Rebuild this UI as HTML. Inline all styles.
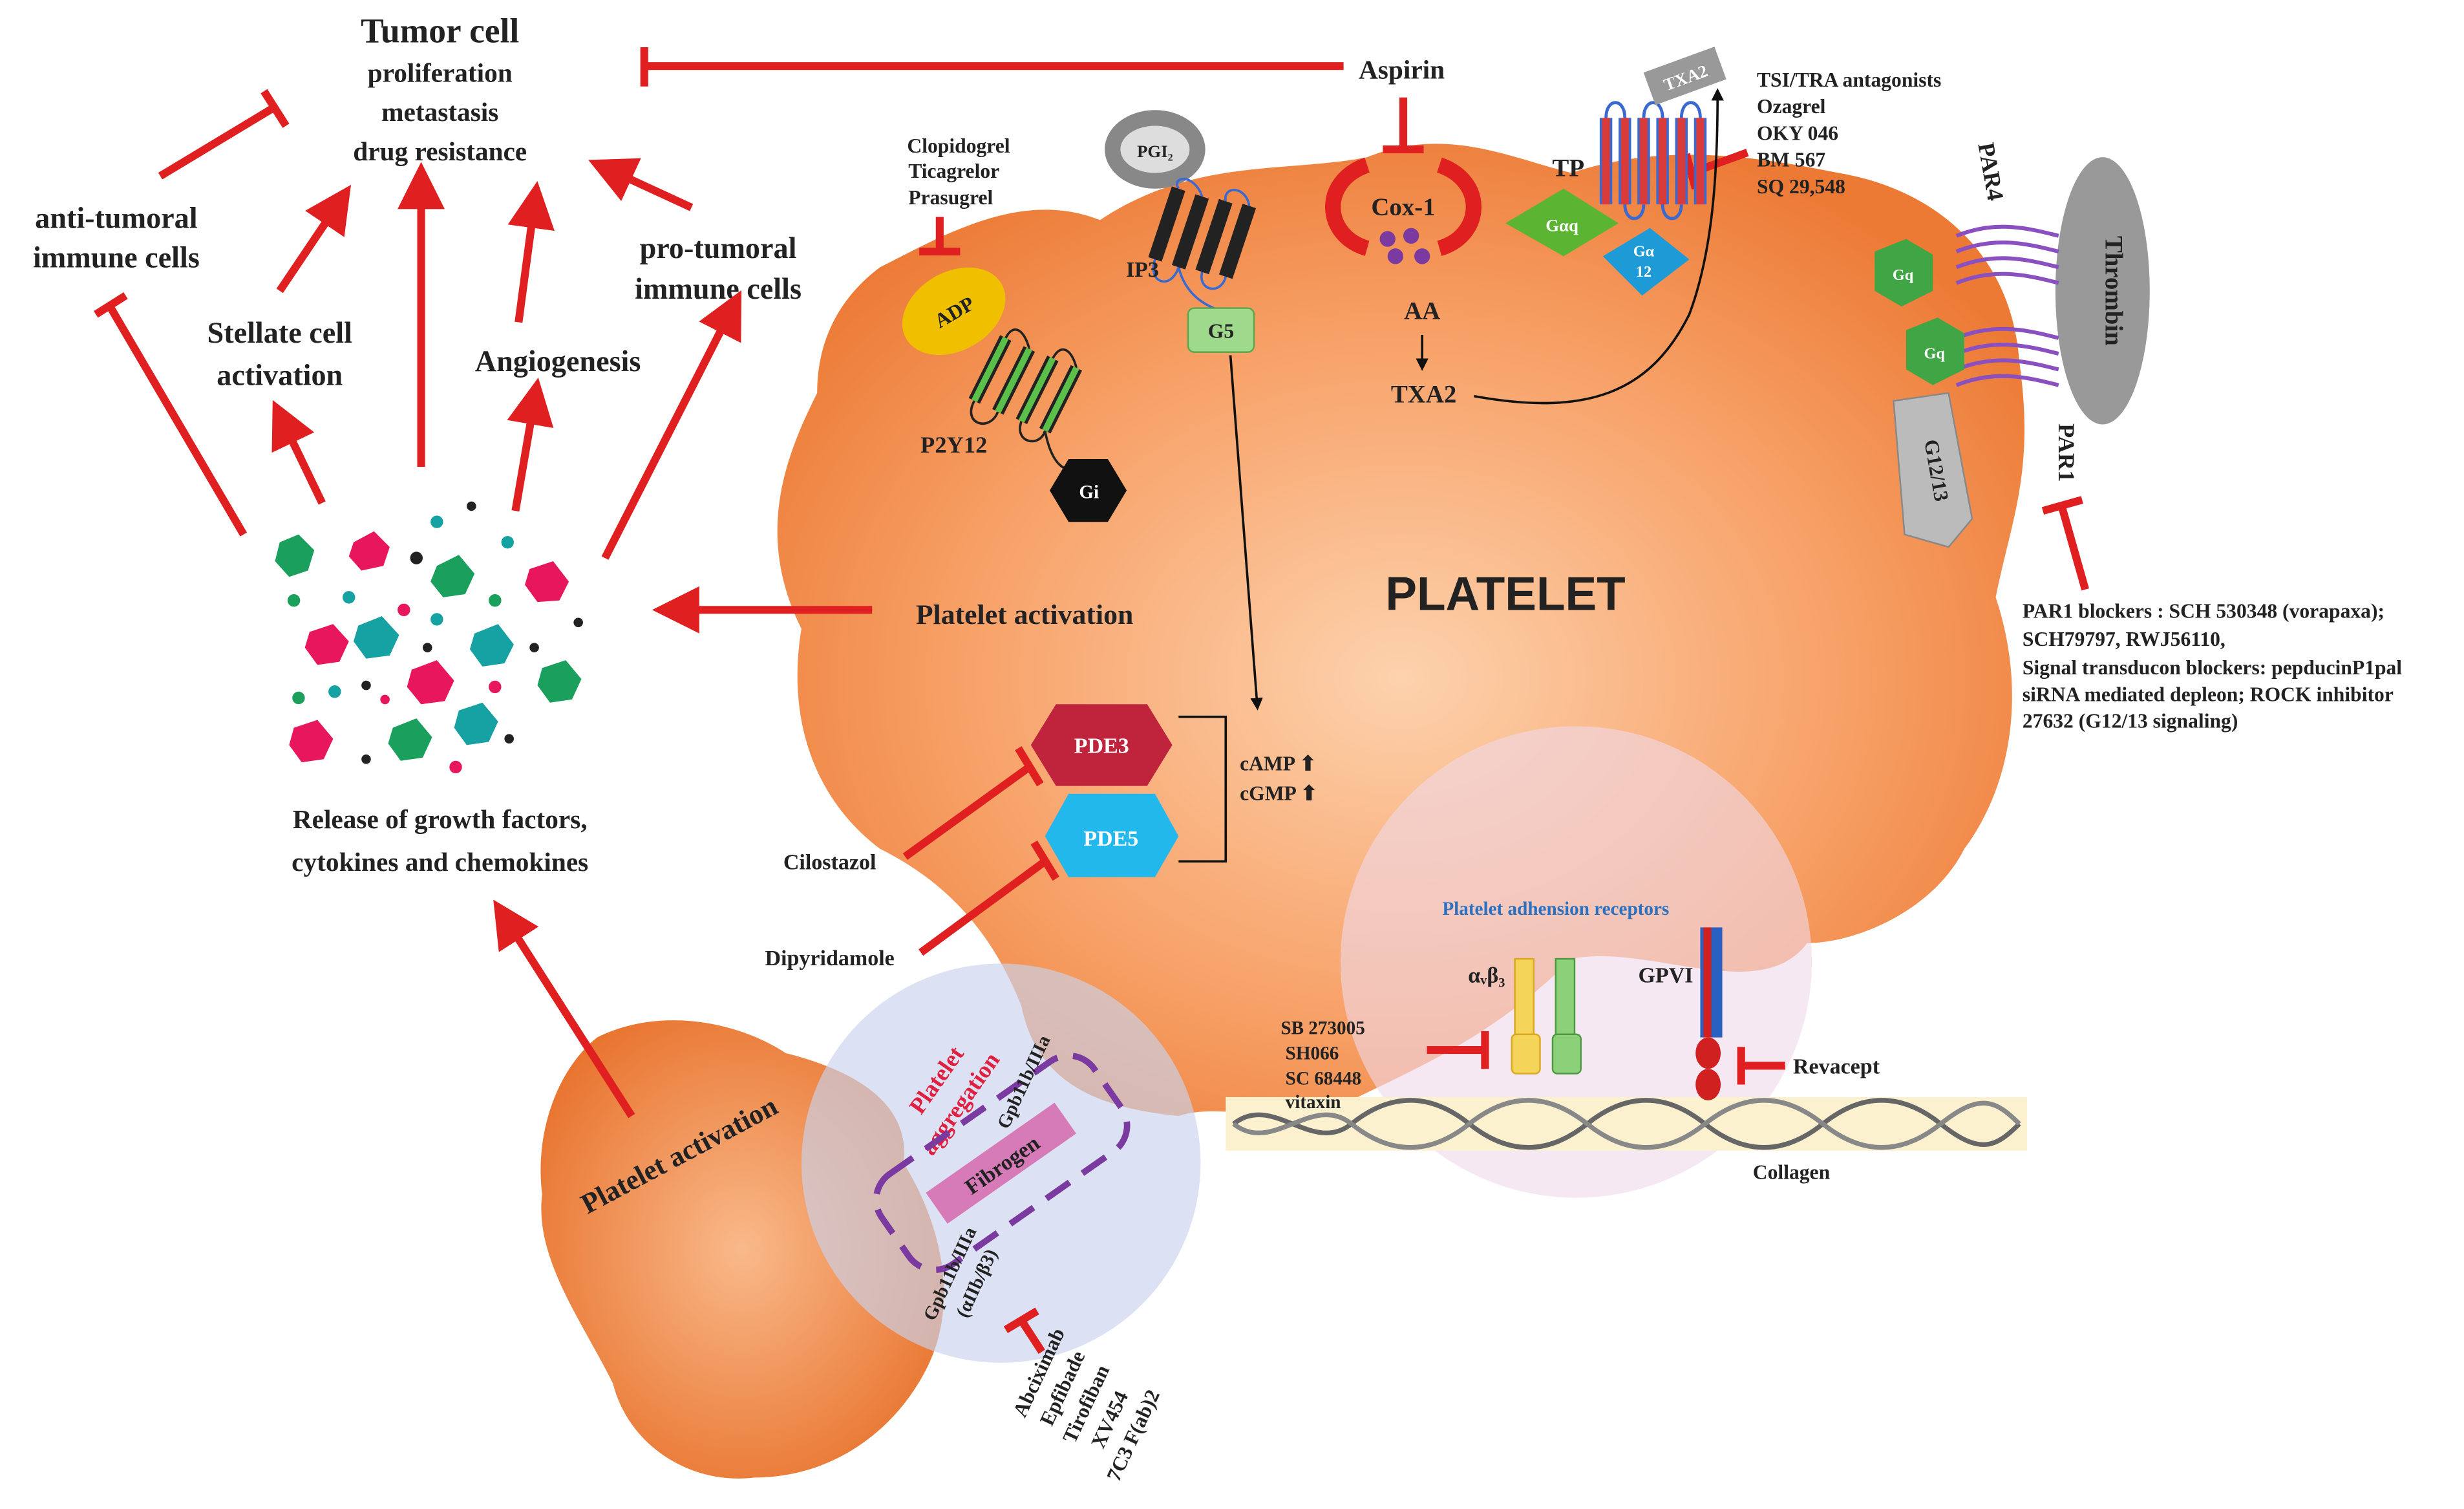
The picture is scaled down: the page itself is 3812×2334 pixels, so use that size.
<!DOCTYPE html>
<html><head><meta charset="utf-8"><style>
html,body{margin:0;padding:0;background:#fff;}
svg{display:block;}
text{font-family:"Liberation Serif",serif;font-weight:bold;fill:#222;}
</style></head><body>
<svg width="3812" height="2334" viewBox="0 0 1568 960" xmlns="http://www.w3.org/2000/svg">
<defs>
<radialGradient id="og" cx="0.5" cy="0.55" r="0.6">
<stop offset="0" stop-color="#fdd2ad"/><stop offset="0.6" stop-color="#f7a066"/><stop offset="1" stop-color="#ec7a35"/>
</radialGradient>
<radialGradient id="og2" cx="0.5" cy="0.5" r="0.6">
<stop offset="0" stop-color="#f9b98a"/><stop offset="1" stop-color="#e8722c"/>
</radialGradient>
<marker id="ar" markerWidth="6" markerHeight="6" refX="3" refY="3" orient="auto" markerUnits="strokeWidth"><path d="M0,0 L6,3 L0,6 z" fill="#e02020"/></marker>
<marker id="ak" markerWidth="8" markerHeight="8" refX="4" refY="4" orient="auto" markerUnits="userSpaceOnUse"><path d="M0,0 L8,4 L0,8 z" fill="#111"/></marker>
</defs>

<path d="M560,170 C600,150 650,120 700,140 C760,100 820,110 870,100 C920,80 960,100 1000,110 C1060,90 1120,100 1170,110 C1230,120 1280,160 1285,230 C1295,300 1280,330 1270,380 C1290,440 1280,500 1250,540 C1230,580 1180,600 1150,600 C1120,640 1050,600 1000,610 C950,660 900,680 860,700 C820,720 780,700 750,710 C700,705 660,690 650,640 C630,590 600,560 560,540 C520,510 500,460 510,400 C480,340 500,290 520,250 C520,210 540,185 560,170 Z" fill="url(#og)"/>
<path d="M380,660 C420,640 470,650 500,670 C540,680 580,700 575,740 C600,780 610,830 590,870 C570,910 530,940 480,940 C440,945 400,920 390,880 C370,840 340,800 345,760 C340,720 355,680 380,660 Z" fill="url(#og2)"/>
<circle cx="637" cy="740" r="127" fill="#c9d3ec" fill-opacity="0.65"/>
<circle cx="1003" cy="612" r="150" fill="#f0d8ea" fill-opacity="0.6"/>
<rect x="780" y="698" width="510" height="34" fill="#fbf1cf"/>
<path d="M785,715 C810,695 835,735 860,715 S910,695 935,715 S985,735 1010,715 S1060,695 1085,715 S1135,735 1160,715 S1210,695 1235,715 S1270,730 1285,715" stroke="#666" stroke-width="3" fill="none"/>
<path d="M785,715 C810,735 835,695 860,715 S910,735 935,715 S985,695 1010,715 S1060,735 1085,715 S1135,695 1160,715 S1210,735 1235,715 S1270,700 1285,715" stroke="#888" stroke-width="3" fill="none"/>

<text x="280" y="27" font-size="22" text-anchor="middle">Tumor cell</text>
<text x="280" y="52" font-size="17" text-anchor="middle">proliferation</text>
<text x="280" y="77" font-size="17" text-anchor="middle">metastasis</text>
<text x="280" y="102" font-size="17" text-anchor="middle">drug resistance</text>
<text x="74" y="145" font-size="19" text-anchor="middle">anti-tumoral</text>
<text x="74" y="170" font-size="19" text-anchor="middle">immune cells</text>
<text x="178" y="218" font-size="19" text-anchor="middle">Stellate cell</text>
<text x="178" y="245" font-size="19" text-anchor="middle">activation</text>
<text x="355" y="236" font-size="19" text-anchor="middle">Angiogenesis</text>
<text x="457" y="164" font-size="19" text-anchor="middle">pro-tumoral</text>
<text x="457" y="190" font-size="19" text-anchor="middle">immune cells</text>
<text x="280" y="527" font-size="17" text-anchor="middle">Release of growth factors,</text>
<text x="280" y="554" font-size="17" text-anchor="middle">cytokines and chemokines</text>

<g stroke="#e02020" stroke-width="5" fill="none" marker-end="url(#ar)">
<line x1="155" y1="340" x2="70" y2="195" marker-end="none"/>
<line x1="205" y1="320" x2="180" y2="268"/>
<line x1="268" y1="297" x2="268" y2="118"/>
<line x1="328" y1="325" x2="340" y2="255"/>
<line x1="385" y1="355" x2="465" y2="198"/>
<line x1="178" y1="185" x2="215" y2="130"/>
<line x1="330" y1="205" x2="340" y2="130"/>
<line x1="440" y1="132" x2="388" y2="108"/>
<line x1="555" y1="388" x2="430" y2="388"/>
<line x1="402" y1="710" x2="322" y2="585"/>
<line x1="855" y1="42" x2="410" y2="42" marker-end="none"/>
<line x1="102" y1="112" x2="175" y2="68" marker-end="none"/>
</g>
<g stroke="#e02020" stroke-width="5">
<line x1="410" y1="30" x2="410" y2="55"/>
<line x1="168" y1="58" x2="182" y2="80"/>
<line x1="61" y1="200" x2="80" y2="188"/>
<line x1="893" y1="62" x2="893" y2="95"/><line x1="880" y1="95" x2="906" y2="95"/>
<line x1="598" y1="138" x2="598" y2="160"/><line x1="585" y1="160" x2="611" y2="160"/>
<line x1="1112" y1="97" x2="1076" y2="110"/><line x1="1073" y1="98" x2="1079" y2="120"/>
<line x1="1327" y1="375" x2="1312" y2="322"/><line x1="1300" y1="325" x2="1325" y2="318"/>
<line x1="576" y1="545" x2="655" y2="488"/><line x1="648" y1="476" x2="662" y2="499"/>
<line x1="586" y1="606" x2="665" y2="548"/><line x1="658" y1="536" x2="672" y2="559"/>
<line x1="908" y1="668" x2="945" y2="668"/><line x1="945" y1="656" x2="945" y2="680"/>
<line x1="1136" y1="678" x2="1108" y2="678"/><line x1="1108" y1="666" x2="1108" y2="690"/>
<line x1="663" y1="860" x2="650" y2="840"/><line x1="640" y1="846" x2="660" y2="834"/>
</g>

<g>
<polygon points="178,345 190,340 200,350 196,363 184,367 175,357" fill="#1aa05c"/>
<polygon points="225,345 238,338 248,348 244,360 230,363 222,354" fill="#e8175d"/>
<polygon points="278,360 292,353 302,365 296,378 282,380 274,370" fill="#1aa05c"/>
<polygon points="337,362 352,357 362,370 356,382 342,383 334,372" fill="#e8175d"/>
<polygon points="197,402 212,397 222,408 216,421 202,423 194,412" fill="#e8175d"/>
<polygon points="228,398 243,392 254,404 248,417 233,419 225,408" fill="#16a2a2"/>
<polygon points="302,403 317,397 327,410 321,422 307,424 299,413" fill="#16a2a2"/>
<polygon points="345,425 360,420 370,432 364,445 350,447 342,436" fill="#1aa05c"/>
<polygon points="262,426 278,420 289,433 283,446 268,448 259,437" fill="#e8175d"/>
<polygon points="187,463 202,458 212,470 206,483 192,485 184,474" fill="#e8175d"/>
<polygon points="250,463 265,457 275,469 269,482 255,484 247,473" fill="#1aa05c"/>
<polygon points="292,452 307,447 317,459 311,472 297,474 289,463" fill="#16a2a2"/>
<circle cx="265" cy="355" r="4" fill="#222"/><circle cx="300" cy="322" r="3" fill="#222"/>
<circle cx="278" cy="332" r="4" fill="#16a2a2"/><circle cx="323" cy="345" r="4" fill="#16a2a2"/>
<circle cx="187" cy="382" r="4" fill="#1aa05c"/><circle cx="222" cy="380" r="4" fill="#16a2a2"/>
<circle cx="257" cy="388" r="4" fill="#e8175d"/><circle cx="315" cy="382" r="4" fill="#1aa05c"/>
<circle cx="278" cy="394" r="4" fill="#16a2a2"/><circle cx="368" cy="396" r="3" fill="#222"/>
<circle cx="272" cy="412" r="3" fill="#222"/><circle cx="340" cy="412" r="3" fill="#222"/>
<circle cx="190" cy="444" r="4" fill="#1aa05c"/><circle cx="213" cy="440" r="4" fill="#16a2a2"/>
<circle cx="233" cy="436" r="3" fill="#222"/><circle cx="245" cy="445" r="3" fill="#e8175d"/>
<circle cx="315" cy="437" r="4" fill="#e8175d"/><circle cx="233" cy="483" r="3" fill="#222"/>
<circle cx="290" cy="488" r="4" fill="#e8175d"/><circle cx="324" cy="470" r="3" fill="#222"/>
</g>

<text x="892" y="50" font-size="17" text-anchor="middle">Aspirin</text>
<text x="610" y="97" font-size="13" text-anchor="middle">Clopidogrel</text>
<text x="607" y="113" font-size="13" text-anchor="middle">Ticagrelor</text>
<text x="605" y="130" font-size="13" text-anchor="middle">Prasugrel</text>
<text x="1118" y="55" font-size="13">TSI/TRA antagonists</text>
<text x="1118" y="72" font-size="13">Ozagrel</text>
<text x="1118" y="89" font-size="13">OKY 046</text>
<text x="1118" y="106" font-size="13">BM 567</text>
<text x="1118" y="123" font-size="13">SQ 29,548</text>

<path d="M870,105 C840,115 842,150 870,158" stroke="#e02020" stroke-width="10" fill="none"/>
<path d="M916,105 C946,115 944,150 916,158" stroke="#e02020" stroke-width="10" fill="none"/>
<text x="893" y="137" font-size="16" text-anchor="middle">Cox-1</text>
<circle cx="883" cy="152" r="5" fill="#7a3aa0"/><circle cx="898" cy="150" r="5" fill="#7a3aa0"/>
<circle cx="888" cy="163" r="5" fill="#7a3aa0"/><circle cx="905" cy="163" r="5" fill="#7a3aa0"/>
<text x="905" y="203" font-size="16" text-anchor="middle">AA</text>
<line x1="905" y1="213" x2="905" y2="232" stroke="#111" stroke-width="1.5" marker-end="url(#ak)"/>
<text x="906" y="256" font-size="16" text-anchor="middle">TXA2</text>
<path d="M938,252 C1010,265 1050,250 1075,200 C1090,160 1093,110 1093,60" stroke="#111" stroke-width="1.5" fill="none" marker-end="url(#ak)"/>

<!-- TP receptor -->
<text x="998" y="112" font-size="16" text-anchor="middle">TP</text>
<path d="M1022,75 C1022,62 1034,62 1034,75 M1046,75 C1046,62 1058,62 1058,75 M1070,75 C1070,62 1082,62 1082,75 M1034,130 C1034,142 1046,142 1046,130 M1058,130 C1058,142 1070,142 1070,130" stroke="#3a6ad0" stroke-width="2" fill="none"/>
<g stroke="#3a6ad0" stroke-width="8" fill="none">
<line x1="1022" y1="75" x2="1022" y2="130"/><line x1="1034" y1="75" x2="1034" y2="130"/>
<line x1="1046" y1="75" x2="1046" y2="130"/><line x1="1058" y1="75" x2="1058" y2="130"/>
<line x1="1070" y1="75" x2="1070" y2="130"/><line x1="1082" y1="75" x2="1082" y2="130"/>
</g>
<g stroke="#d93a3a" stroke-width="5" fill="none">
<line x1="1022" y1="75" x2="1022" y2="130"/><line x1="1034" y1="75" x2="1034" y2="130"/>
<line x1="1046" y1="75" x2="1046" y2="130"/><line x1="1058" y1="75" x2="1058" y2="130"/>
<line x1="1070" y1="75" x2="1070" y2="130"/><line x1="1082" y1="75" x2="1082" y2="130"/>
</g>
<g transform="rotate(-20 1070 48)"><rect x="1048" y="38" width="48" height="22" fill="#999"/><text x="1072" y="54" font-size="11" text-anchor="middle" style="fill:#fff">TXA2</text></g>
<polygon points="958,142 995,120 1030,142 995,163" fill="#5bb533"/>
<text x="994" y="147" font-size="11" text-anchor="middle" style="fill:#fff">Gαq</text>
<polygon points="1020,163 1050,145 1075,165 1045,188" fill="#1e9ad6"/>
<text x="1046" y="163" font-size="10" text-anchor="middle" style="fill:#fff">Gα</text>
<text x="1046" y="176" font-size="10" text-anchor="middle" style="fill:#fff">12</text>

<!-- PGI2, IP3, G5 -->
<ellipse cx="735" cy="95" rx="32" ry="25" fill="#888"/>
<ellipse cx="735" cy="95" rx="22" ry="15" fill="#ddd"/>
<text x="735" y="100" font-size="11" text-anchor="middle">PGI₂</text>
<path d="M750,120 C745,112 760,110 765,125 M780,128 C778,118 793,118 795,131 M735,165 C730,180 745,185 750,170 M765,173 C762,185 777,188 780,176 M750,170 C755,190 770,195 777,198" stroke="#3a6ad0" stroke-width="1.5" fill="none"/>
<g stroke="#222" stroke-width="9">
<line x1="735" y1="165" x2="750" y2="120"/><line x1="750" y1="170" x2="765" y2="125"/>
<line x1="765" y1="173" x2="780" y2="128"/><line x1="780" y1="176" x2="795" y2="131"/>
</g>
<text x="727" y="176" font-size="14" text-anchor="middle">IP3</text>
<rect x="756" y="196" width="42" height="28" rx="4" fill="#9fd98c" stroke="#5aa84a"/>
<text x="777" y="215" font-size="13" text-anchor="middle">G5</text>
<line x1="783" y1="226" x2="800" y2="448" stroke="#111" stroke-width="1.5" marker-end="url(#ak)"/>

<!-- ADP P2Y12 -->
<g transform="rotate(-30 607 198)"><ellipse cx="607" cy="198" rx="35" ry="25" fill="#f0c000"/></g>
<text x="607" y="203" font-size="13" text-anchor="middle" transform="rotate(-30 607 198)">ADP</text>
<path d="M620,255 C612,270 630,275 635,262 M650,268 C645,282 662,285 665,274 M640,215 C645,205 652,210 655,222 M670,228 C675,218 682,222 685,234 M665,274 C670,300 680,300 690,300" stroke="#222" stroke-width="1.5" fill="none"/>
<g stroke="#222" stroke-width="8"><line x1="620" y1="255" x2="640" y2="215"/><line x1="635" y1="262" x2="655" y2="222"/><line x1="650" y1="268" x2="670" y2="228"/><line x1="665" y1="274" x2="685" y2="234"/></g>
<g stroke="#5bc04a" stroke-width="4"><line x1="620" y1="255" x2="640" y2="215"/><line x1="635" y1="262" x2="655" y2="222"/><line x1="650" y1="268" x2="670" y2="228"/><line x1="665" y1="274" x2="685" y2="234"/></g>
<text x="607" y="288" font-size="15" text-anchor="middle">P2Y12</text>
<polygon points="680,292 705,292 717,312 705,332 680,332 668,312" fill="#111"/>
<text x="693" y="317" font-size="12" text-anchor="middle" style="fill:#fff">Gi</text>

<!-- PAR4/PAR1 -->
<ellipse cx="1338" cy="185" rx="30" ry="85" fill="#999"/>
<text x="1340" y="185" font-size="16" text-anchor="middle" transform="rotate(90 1340 185)">Thrombin</text>
<text x="1262" y="110" font-size="15" text-anchor="middle" transform="rotate(80 1262 110)">PAR4</text>
<text x="1310" y="288" font-size="15" text-anchor="middle" transform="rotate(90 1310 288)">PAR1</text>
<g stroke="#8a50c0" stroke-width="2.5" fill="none">
<path d="M1245,150 C1270,140 1290,145 1310,150 M1245,160 C1270,150 1290,155 1310,160 M1245,170 C1270,160 1290,165 1310,170 M1245,180 C1270,170 1290,175 1310,180"/>
<path d="M1245,215 C1270,205 1290,210 1310,215 M1245,225 C1270,215 1290,220 1310,225 M1245,235 C1270,225 1290,230 1310,235 M1245,245 C1270,235 1290,240 1310,245"/>
</g>
<polygon points="1193,160 1213,152 1230,162 1230,185 1210,195 1193,185" fill="#3fa545"/>
<text x="1211" y="178" font-size="10" text-anchor="middle" style="fill:#fff">Gq</text>
<polygon points="1213,210 1233,202 1250,212 1250,235 1230,245 1213,235" fill="#3fa545"/>
<text x="1231" y="228" font-size="10" text-anchor="middle" style="fill:#fff">Gq</text>
<polygon points="1205,255 1240,250 1255,330 1240,348 1212,340" fill="#bbb" stroke="#888"/>
<text x="1228" y="300" font-size="13" text-anchor="middle" transform="rotate(80 1228 300)">G12/13</text>

<text x="1287" y="393" font-size="13">PAR1 blockers : SCH 530348 (vorapaxa);</text>
<text x="1287" y="411" font-size="13">SCH79797, RWJ56110,</text>
<text x="1287" y="429" font-size="13">Signal transducon blockers: pepducinP1pal</text>
<text x="1287" y="446" font-size="13">siRNA mediated depleon; ROCK inhibitor</text>
<text x="1287" y="463" font-size="13">27632 (G12/13 signaling)</text>

<text x="958" y="388" font-size="30" text-anchor="middle" style="font-family:'Liberation Sans',sans-serif;fill:#222">PLATELET</text>
<text x="652" y="397" font-size="18" text-anchor="middle">Platelet activation</text>

<polygon points="672,448 730,448 746,474 730,500 672,500 656,474" fill="#c0243c"/>
<text x="701" y="479" font-size="14" text-anchor="middle" style="fill:#fff">PDE3</text>
<polygon points="680,505 735,505 750,532 735,558 680,558 665,532" fill="#22b8ec"/>
<text x="707" y="538" font-size="14" text-anchor="middle" style="fill:#fff">PDE5</text>
<path d="M750,456 L780,456 L780,548 L750,548" stroke="#111" stroke-width="1.5" fill="none"/>
<text x="789" y="490" font-size="13">cAMP ⬆</text>
<text x="789" y="509" font-size="13">cGMP ⬆</text>
<text x="528" y="553" font-size="14" text-anchor="middle">Cilostazol</text>
<text x="528" y="614" font-size="14" text-anchor="middle">Dipyridamole</text>

<text x="990" y="582" font-size="12" text-anchor="middle" style="fill:#2a70c0">Platelet adhension receptors</text>
<text x="946" y="625" font-size="14" text-anchor="middle">αᵥβ₃</text>
<rect x="964" y="610" width="12" height="50" fill="#f5d45a" stroke="#d9a820"/>
<rect x="962" y="658" width="18" height="25" rx="3" fill="#f5d45a" stroke="#d9a820"/>
<rect x="990" y="610" width="12" height="50" fill="#8dd07a" stroke="#4a9a40"/>
<rect x="988" y="658" width="18" height="25" rx="3" fill="#8dd07a" stroke="#4a9a40"/>
<text x="1060" y="625" font-size="14" text-anchor="middle">GPVI</text>
<rect x="1082" y="590" width="14" height="70" fill="#2a60c0"/>
<rect x="1084" y="590" width="5" height="70" fill="#d02020"/>
<ellipse cx="1087" cy="670" rx="8" ry="10" fill="#d02020"/>
<ellipse cx="1087" cy="690" rx="8" ry="10" fill="#d02020"/>
<text x="1141" y="683" font-size="14">Revacept</text>
<text x="815" y="658" font-size="12">SB 273005</text>
<text x="818" y="674" font-size="12">SH066</text>
<text x="818" y="690" font-size="12">SC 68448</text>
<text x="818" y="705" font-size="12">vitaxin</text>
<text x="1140" y="750" font-size="13" text-anchor="middle">Collagen</text>

<text x="600" y="690" font-size="15" text-anchor="middle" style="fill:#e02040" transform="rotate(-55 600 690)">Platelet</text>
<text x="615" y="705" font-size="15" text-anchor="middle" style="fill:#e02040" transform="rotate(-55 615 705)">aggregation</text>
<g transform="rotate(-35 637 740)">
<rect x="587" y="728" width="100" height="24" fill="#d77ab8"/>
<text x="637" y="746" font-size="14" text-anchor="middle">Fibrogen</text>
<rect x="555" y="705" width="165" height="70" rx="20" fill="none" stroke="#7a3aa0" stroke-width="4" stroke-dasharray="18,10"/>
</g>
<text x="655" y="690" font-size="12" text-anchor="middle" transform="rotate(-65 655 690)">Gpb11b/IIIa</text>
<text x="608" y="812" font-size="12" text-anchor="middle" transform="rotate(-65 608 812)">Gpb11b/IIIa</text>
<text x="625" y="818" font-size="12" text-anchor="middle" transform="rotate(-65 625 818)">(αIIb/β3)</text>
<text x="435" y="740" font-size="18" text-anchor="middle" transform="rotate(-28 435 740)">Platelet activation</text>
<g font-size="13">
<text x="665" y="875" text-anchor="middle" transform="rotate(-65 665 875)">Abciximab</text>
<text x="680" y="885" text-anchor="middle" transform="rotate(-65 680 885)">Epfibade</text>
<text x="695" y="895" text-anchor="middle" transform="rotate(-65 695 895)">Tirofiban</text>
<text x="710" y="905" text-anchor="middle" transform="rotate(-65 710 905)">XV454</text>
<text x="725" y="915" text-anchor="middle" transform="rotate(-65 725 915)">7C3 F(ab)2</text>
</g>
</svg>
</body></html>
